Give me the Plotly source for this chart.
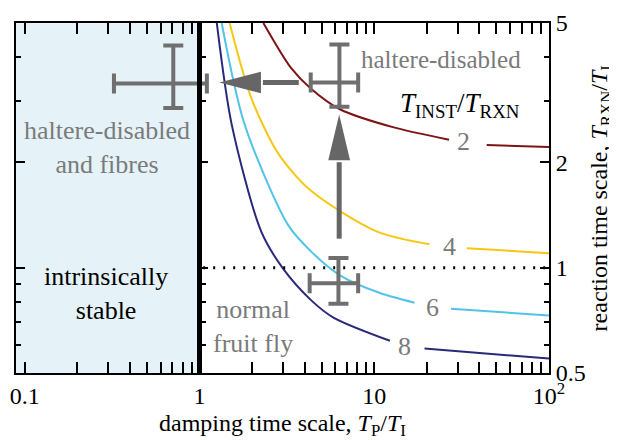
import numpy as np
import plotly.graph_objects as go

FONT = "Liberation Serif"
GRAY_TXT = "#7a7a7a"
GRAY_MARK = "#6f6f6f"

# ---------------- data ----------------
# contour lines  T_INST / T_RXN = 2, 4, 6, 8   (None = gap for the label)
c2_x = [2.32, 3.34, 4.33, 6.4, 12.77, 26.8, None, 44.0, 100]
c2_y = [5.0, 3.72, 3.25, 2.83, 2.52, 2.32, None, 2.24, 2.21]
c4_x = [1.487, 1.98, 2.82, 4.33, 10.4, 20.7, None, 33.9, 100]
c4_y = [5.0, 3.05, 2.12, 1.66, 1.267, 1.166, None, 1.136, 1.10]
c6_x = [1.34, 1.81, 3.21, 4.33, 6.4, 10.78, 17.0, None, 27.5, 100]
c6_y = [5.0, 2.57, 1.325, 1.115, 0.949, 0.846, 0.794, None, 0.763, 0.73]
c8_x = [1.256, 1.527, 2.257, 3.01, 4.33, 5.84, 12.3, None, 19.4, 100]
c8_y = [5.0, 2.57, 1.267, 0.993, 0.809, 0.72, 0.618, None, 0.587, 0.55]
contour_levels = ["2", "4", "6", "8"]
contour_colors = ["#7d1517", "#f6c814", "#52c3e6", "#29297a"]
label_x = [32.6, 26.8, 21.5, 14.9]
label_y = [2.29, 1.15, 0.77, 0.595]

# measured flies: centre, and error extents
fly_names = ["haltere-disabled and fibres", "haltere-disabled", "normal fruit fly"]
fly_x = [0.708, 6.32, 6.24]
fly_x_lo = [0.324, 4.33, 4.27]
fly_x_hi = [1.102, 8.09, 8.09]
fly_y = [3.36, 3.38, 0.902]
fly_y_lo = [2.86, 2.88, 0.788]
fly_y_hi = [4.31, 4.34, 1.066]

# arrows (tail -> tip)
arrow_tail_x = [3.70, 6.3]
arrow_tail_y = [3.38, 1.21]
arrow_tip_x = [1.30, 6.3]
arrow_tip_y = [3.38, 2.74]

stable_limit = 1.0          # T_P / T_I = 1
reaction_ref = 1.0          # T_RXN / T_I = 1 (dotted line)

x_tickvals = [0.1, 1, 10, 100]
x_ticktext = ["0.1", "1", "10", "10<sup>2</sup>"]
x_minor = [0.2, 0.3, 0.4, 0.5, 0.6, 0.7, 0.8, 0.9,
           2, 3, 4, 5, 6, 7, 8, 9, 20, 30, 40, 50, 60, 70, 80, 90]
y_tickvals = [0.5, 1, 2, 5]
y_ticktext = ["0.5", "1", "2", "5"]
y_minor = [0.6, 0.7, 0.8, 0.9, 3, 4]

x_title = "damping time scale, <i>T</i><sub>P</sub>/<i>T</i><sub>I</sub>"
y_title = "reaction time scale, <i>T</i><sub>RXN</sub>/<i>T</i><sub>I</sub>"

# ---------------- layout geometry ----------------
W, H = 617, 440
ML, MR, MT, MB = 2, 76, 6, 75
PLOT_W = W - ML - MR
PLOT_H = H - MT - MB
XR = [-1.05, 2.0]
YR = [np.log10(0.5), np.log10(5)]
PX_X = PLOT_W / (XR[1] - XR[0])
PX_Y = PLOT_H / (YR[1] - YR[0])

fig = go.Figure()

# shaded intrinsically-stable region
fig.add_trace(go.Scatter(
    x=[10 ** (XR[0] - 1), stable_limit, stable_limit, 10 ** (XR[0] - 1)],
    y=[0.1, 0.1, 50, 50], fill="toself", fillcolor="#e5f2f7",
    line=dict(width=0), mode="lines", hoverinfo="skip", showlegend=False))

# dotted reference line (on y2 so that the x=1 axis gets drawn)
fig.add_trace(go.Scatter(
    x=[stable_limit * 1.05, 100], y=[reaction_ref, reaction_ref], mode="lines",
    line=dict(color="black", width=3, dash="2px,8px"), yaxis="y2",
    showlegend=False, hoverinfo="skip"))

# contours
for xs, ys, col in zip([c2_x, c4_x, c6_x, c8_x], [c2_y, c4_y, c6_y, c8_y], contour_colors):
    fig.add_trace(go.Scatter(x=xs, y=ys, mode="lines",
                             line=dict(color=col, width=2, shape="spline", smoothing=0.8),
                             connectgaps=False, showlegend=False, hoverinfo="skip"))

# arrows
for tx, ty, hx, hy in zip(arrow_tail_x, arrow_tail_y, arrow_tip_x, arrow_tip_y):
    lx0, ly0, lx1, ly1 = np.log10(tx), np.log10(ty), np.log10(hx), np.log10(hy)
    dxp = (lx1 - lx0) * PX_X
    dyp = (ly1 - ly0) * PX_Y
    L = np.hypot(dxp, dyp)
    ux, uy = dxp / L, dyp / L
    head_len = 42 if abs(ux) > 0.5 else 47
    half_w = 11
    bxp, byp = -ux * head_len, -uy * head_len
    base_lx = lx1 + bxp / PX_X
    base_ly = ly1 + byp / PX_Y
    px_, py_ = -uy * half_w, ux * half_w
    tri_x = [hx, 10 ** (base_lx + px_ / PX_X), 10 ** (base_lx - px_ / PX_X), hx]
    tri_y = [hy, 10 ** (base_ly + py_ / PX_Y), 10 ** (base_ly - py_ / PX_Y), hy]
    fig.add_trace(go.Scatter(x=[tx, 10 ** (base_lx - ux * 2 / PX_X)],
                             y=[ty, 10 ** (base_ly - uy * 2 / PX_Y)], mode="lines",
                             line=dict(color="#666666", width=5), showlegend=False,
                             hoverinfo="skip"))
    fig.add_trace(go.Scatter(x=tri_x, y=tri_y, fill="toself", fillcolor="#666666",
                             mode="lines", line=dict(width=0, color="#666666"),
                             showlegend=False, hoverinfo="skip"))

# flies with error crosses
fig.add_trace(go.Scatter(
    x=fly_x, y=fly_y, mode="markers",
    marker=dict(size=4, color=GRAY_MARK),
    error_x=dict(type="data", symmetric=False,
                 array=[h - c for h, c in zip(fly_x_hi, fly_x)],
                 arrayminus=[c - l for c, l in zip(fly_x, fly_x_lo)],
                 color=GRAY_MARK, thickness=4, width=10),
    error_y=dict(type="data", symmetric=False,
                 array=[h - c for h, c in zip(fly_y_hi, fly_y)],
                 arrayminus=[c - l for c, l in zip(fly_y, fly_y_lo)],
                 color=GRAY_MARK, thickness=4, width=10),
    showlegend=False, hoverinfo="skip"))

annotations = []
# contour labels
for t, lx, ly in zip(contour_levels, label_x, label_y):
    annotations.append(dict(x=np.log10(lx), y=np.log10(ly), text=t, showarrow=False,
                            font=dict(family=FONT, size=26, color=GRAY_TXT)))


def note(xv, yv, text, color, size=26):
    annotations.append(dict(x=np.log10(xv), y=np.log10(yv), text=text, showarrow=False,
                            font=dict(family=FONT, size=size, color=color)))


note(24.2, 3.94, "haltere-disabled", GRAY_TXT, 25)
note(31.0, 2.92, "<i>T</i><sub>INST</sub>/<i>T</i><sub>RXN</sub>", "black", 27)
note(0.2956, 2.21, "haltere-disabled<br>and fibres", GRAY_TXT)
note(0.29, 0.846, "intrinsically<br>stable", "black")
note(2.03, 0.68, "normal<br>fruit fly", GRAY_TXT)

# axis titles
annotations.append(dict(xref="paper", yref="paper", x=0.5, y=(PLOT_H + MT - 418) / PLOT_H,
                        text=x_title, showarrow=False, xanchor="center", yanchor="middle",
                        font=dict(family=FONT, size=24, color="black")))
annotations.append(dict(xref="paper", yref="paper", x=(594 - ML) / PLOT_W, y=0.5,
                        text=y_title, showarrow=False, textangle=-90,
                        xanchor="center", yanchor="middle",
                        font=dict(family=FONT, size=24, color="black")))

tickfont = dict(family=FONT, size=24, color="black")
fig.update_layout(
    width=W, height=H, margin=dict(l=ML, r=MR, t=MT, b=MB),
    plot_bgcolor="white", paper_bgcolor="white",
    annotations=annotations,
    xaxis=dict(type="log", range=XR, showgrid=False, zeroline=False,
               showline=True, linecolor="black", linewidth=2, mirror="allticks",
               ticks="inside", ticklen=11, tickwidth=2, tickcolor="black",
               tickvals=x_tickvals, ticktext=x_ticktext, tickfont=tickfont,
               ticklabeloverflow="allow",
               minor=dict(tickvals=x_minor, ticks="inside", ticklen=5, tickwidth=2,
                          tickcolor="black", showgrid=False)),
    yaxis=dict(type="log", range=YR, side="right", showgrid=False, zeroline=False,
               showline=True, linecolor="black", linewidth=2, mirror="allticks",
               ticks="inside", ticklen=9, tickwidth=2, tickcolor="black",
               tickvals=y_tickvals, ticktext=y_ticktext, tickfont=tickfont,
               ticklabeloverflow="allow",
               minor=dict(tickvals=y_minor, ticks="inside", ticklen=5, tickwidth=2,
                          tickcolor="black", showgrid=False)),
    yaxis2=dict(type="log", range=YR, overlaying="y", anchor="free",
                position=(0 - XR[0]) / (XR[1] - XR[0]), side="left",
                showgrid=False, zeroline=False, showline=True, linecolor="black",
                linewidth=5, ticks="inside", ticklen=6, tickwidth=2, tickcolor="black",
                tickvals=y_tickvals, showticklabels=False,
                minor=dict(tickvals=y_minor, ticks="inside", ticklen=4, tickwidth=2,
                           tickcolor="black", showgrid=False)),
)

fig.write_html("out.html")
